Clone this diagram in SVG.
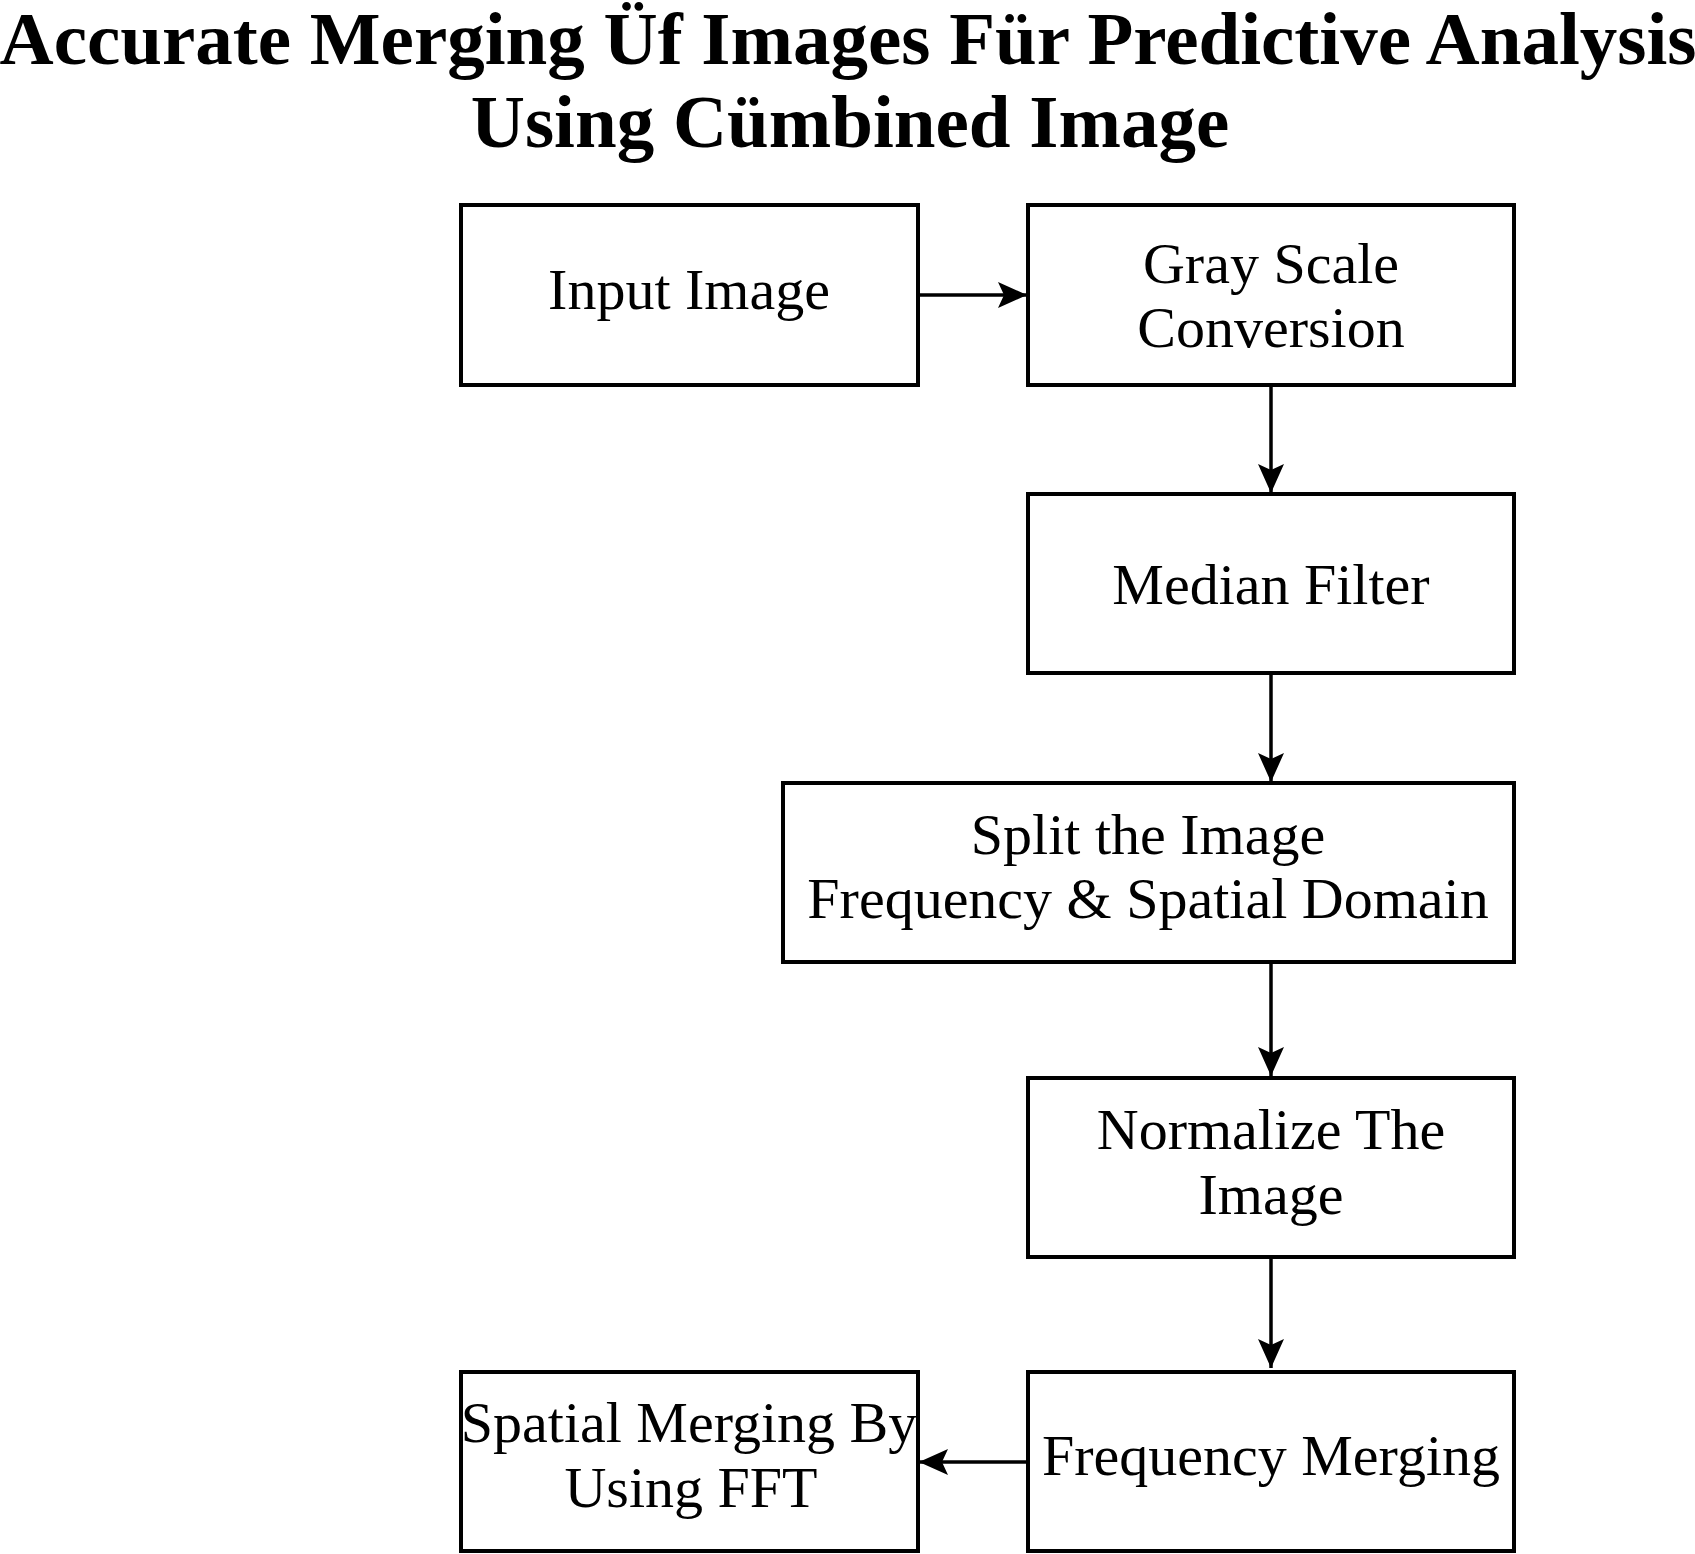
<svg xmlns="http://www.w3.org/2000/svg" width="1695" height="1554" viewBox="0 0 1695 1554">
<style>
.box{fill:#ffffff;stroke:#000000;stroke-width:4}
.lbl{font-family:"Liberation Serif","Times New Roman",serif;font-size:58px;fill:#000000;text-anchor:middle}
.title{font-family:"Liberation Serif","Times New Roman",serif;font-size:75px;font-weight:bold;fill:#000000;text-anchor:middle}
.edge{stroke:#000000;stroke-width:3.5;fill:none;marker-end:url(#arr)}
</style>
<defs>
<marker id="arr" markerUnits="userSpaceOnUse" markerWidth="32" markerHeight="28" refX="29" refY="13" orient="auto">
<path d="M0,0 L29,13 L0,26 L6,13 Z" fill="#000000"/>
</marker>
</defs>
<rect x="0" y="0" width="1695" height="1554" fill="#ffffff"/>
<g id="title">
<text class="title" x="848" y="64">Accurate Merging Üf Images Für Predictive Analysis</text>
<text class="title" x="850" y="147">Using Cümbined Image</text>
</g>
<g id="connectors">
<line class="edge" x1="918" y1="295" x2="1027" y2="295"/>
<line class="edge" x1="1271" y1="385" x2="1271" y2="493"/>
<line class="edge" x1="1271" y1="673" x2="1271" y2="782"/>
<line class="edge" x1="1271" y1="962" x2="1271" y2="1076"/>
<line class="edge" x1="1271" y1="1257" x2="1271" y2="1368"/>
<line class="edge" x1="1028" y1="1462" x2="919" y2="1462"/>
</g>
<g id="input-image">
<rect class="box" x="461" y="205" width="457" height="180"/>
<text class="lbl" x="689" y="309">Input Image</text>
</g>
<g id="gray-scale">
<rect class="box" x="1028" y="205" width="486" height="180"/>
<text class="lbl" x="1271" y="283">Gray Scale</text>
<text class="lbl" x="1271" y="347">Conversion</text>
</g>
<g id="median-filter">
<rect class="box" x="1028" y="494" width="486" height="179"/>
<text class="lbl" x="1271" y="604">Median Filter</text>
</g>
<g id="split">
<rect class="box" x="783" y="783" width="731" height="179"/>
<text class="lbl" x="1148" y="854">Split the Image</text>
<text class="lbl" x="1148" y="918">Frequency &amp; Spatial Domain</text>
</g>
<g id="normalize">
<rect class="box" x="1028" y="1078" width="486" height="179"/>
<text class="lbl" x="1271" y="1149">Normalize The</text>
<text class="lbl" x="1271" y="1214">Image</text>
</g>
<g id="frequency-merging">
<rect class="box" x="1028" y="1372" width="486" height="179"/>
<text class="lbl" x="1271" y="1475">Frequency Merging</text>
</g>
<g id="spatial-merging">
<rect class="box" x="461" y="1372" width="457" height="179"/>
<text class="lbl" x="689" y="1442">Spatial Merging By</text>
<text class="lbl" x="691" y="1507">Using FFT</text>
</g>
</svg>
